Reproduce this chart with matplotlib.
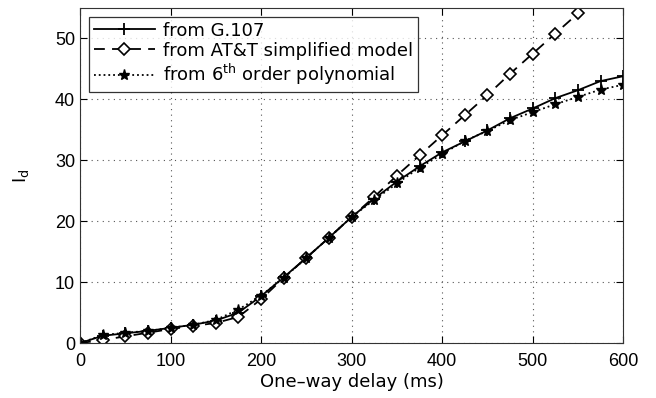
import numpy as np
import matplotlib
matplotlib.use("Agg")
import matplotlib.pyplot as plt

plt.rcParams['font.family'] = ['Liberation Sans', 'DejaVu Sans']
plt.rcParams['mathtext.fontset'] = 'custom'
plt.rcParams['mathtext.rm'] = 'DejaVu Sans'
plt.rcParams['mathtext.it'] = 'DejaVu Sans'

# one-way delay (ms)
delay = [0, 25, 50, 75, 100, 125, 150, 175, 200, 225, 250, 275, 300,
         325, 350, 375, 400, 425, 450, 475, 500, 525, 550, 575, 600]

g107 = [0, 1.2, 1.6, 2.0, 2.5, 3.0, 3.7, 5.0, 7.7, 10.8, 14.0, 17.3, 20.7,
        23.7, 26.5, 29.0, 31.3, 33.1, 34.9, 36.9, 38.5, 40.2, 41.5, 43.0, 43.8]

att_delay = delay[:23]
att = [0, 0.5, 1.1, 1.7, 2.3, 2.8, 3.3, 4.3, 7.2, 10.7, 14.0, 17.3, 20.7,
       24.0, 27.5, 30.8, 34.1, 37.4, 40.7, 44.2, 47.5, 50.8, 54.1]

poly = [0, 1.3, 1.7, 2.0, 2.5, 3.0, 3.8, 5.5, 7.8, 10.7, 14.0, 17.3, 20.7,
        23.5, 26.2, 28.8, 31.0, 33.2, 34.8, 36.6, 37.9, 39.2, 40.4, 41.6, 42.4]

fig = plt.figure(figsize=(6.56, 3.98), dpi=100)
ax = fig.add_axes([0.122, 0.138, 0.828, 0.842])

ax.plot(delay, g107, '-', color='k', lw=1.3, marker='+', ms=9, mew=1.3,
        label='from G.107')
ax.plot(att_delay, att, '--', color='k', lw=1.3, marker='D', ms=6.5, mew=1.2,
        mfc='white', dashes=(6, 4), label='from AT&T simplified model')
ax.plot(delay, poly, ':', color='k', lw=1.3, marker='*', ms=8, mew=1,
        label='from 6$^{th}$ order polynomial')

ax.set_xlim(0, 600)
ax.set_ylim(0, 55)
ax.set_xticks(range(0, 601, 100))
ax.set_yticks(range(0, 51, 10))
ax.grid(True, linestyle=(0, (1, 4)), color='#555555', lw=0.8)
ax.tick_params(direction='in', top=True, right=True, labelsize=13, length=5)
ax.tick_params(axis='x', pad=7)
for s in ax.spines.values():
    s.set_color('#333333')

ax.set_xlabel('One\u2013way delay (ms)', fontsize=13, labelpad=2,
              family='DejaVu Sans')
ax.set_ylabel('I$_\\mathregular{d}$', fontsize=13, labelpad=17,
              family='DejaVu Sans')

leg = ax.legend(loc='upper left', handlelength=3.4,
                prop={'family': 'DejaVu Sans', 'size': 13},
                fancybox=False, edgecolor='k', borderaxespad=0.5,
                labelspacing=0.12, borderpad=0.25, handletextpad=0.45)
leg.get_frame().set_linewidth(0.9)

fig.savefig('out.png', dpi=100)
